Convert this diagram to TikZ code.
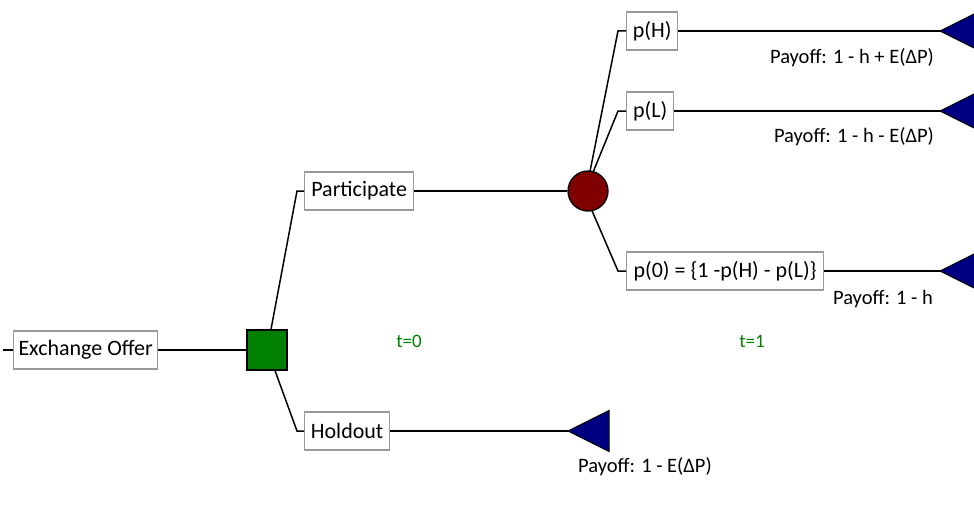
\documentclass[tikz,border=0pt]{standalone}
\usepackage{fontspec}
\setmainfont{Carlito}
\begin{document}
\begin{tikzpicture}[x=1pt,y=-1pt,
  lbl/.style={draw=black!40,line width=1.3pt,fill=white,inner sep=1pt,minimum height=38pt,font=\fontsize{22}{25}\selectfont},
  thick line/.style={line width=2.7pt},
  thin line/.style={line width=1.5pt},
  term/.style={fill=blue!50!black,draw=black,line width=1pt},
  pay/.style={font=\fontsize{20.5}{24}\selectfont,inner sep=0pt},
  tlab/.style={font=\fontsize{19}{22}\selectfont,text=green!50!black,inner sep=0pt}]
\useasboundingbox (0,0) rectangle (974,511);
\clip (0,0) rectangle (974,511);
% nodes
\node[lbl,anchor=west,minimum width=144pt] (ex) at (13,350) {Exchange Offer};
\coordinate (exin) at (3,350);
\node[draw=black,line width=1.3pt,fill=green!50!black,minimum size=40pt,inner sep=0pt] (dec) at (267,350) {};
\node[lbl,anchor=west,minimum width=109pt] (part) at (304,191) {Participate};
\node[lbl,anchor=west,minimum width=85pt] (hold) at (304,431) {Holdout};
\node[circle,draw=black,line width=1.3pt,fill=red!50!black,minimum size=40pt,inner sep=0pt] (ch) at (588,191) {};
\node[lbl,anchor=west,minimum width=51pt] (pH) at (626,31) {p(H)};
\node[lbl,anchor=west,minimum width=47pt] (pL) at (626,111) {p(L)};
\node[lbl,anchor=west,minimum width=197pt] (p0) at (626,271) {p(0) = \{1 -p(H) - p(L)\}};
% terminal apexes
\coordinate (tHold) at (568,431);
\coordinate (tH) at (940,31);
\coordinate (tL) at (940,111);
\coordinate (t0) at (940,271);
\foreach \t in {tHold,tH,tL,t0}
  \draw[term] (\t) -- ++(41,-20.5) -- ++(0,41) -- cycle;
% connectors
\draw[thin line] (exin) -- (ex.west);
\draw[thick line] (ex.east) -- (dec.west);
\draw[thin line] (dec.north) ++(4,0) -- (297,191) -- (part.west);
\draw[thin line] (dec.south) ++(8,0) -- (297,431) -- (hold.west);
\draw[thick line] (part.east) -- (ch.west);
\draw[thick line] (hold.east) -- (tHold);
\draw[thin line] (ch.north) ++(2,1) -- (618,31) -- (pH.west);
\draw[thin line] (ch.north) ++(5,2) -- (618,111) -- (pL.west);
\draw[thin line] (ch.south) ++(4,-1) -- (618,271) -- (p0.west);
\draw[thick line] (pH.east) -- (tH);
\draw[thick line] (pL.east) -- (tL);
\draw[thick line] (p0.east) -- (t0);
% labels
\node[pay] (payH) at (852,58) {Payoff: 1 - h + E(ΔP)};
\node[pay] (payL) at (854,137) {Payoff: 1 - h - E(ΔP)};
\node[pay] (pay0) at (883,299) {Payoff: 1 - h};
\node[pay] (payHold) at (645,467) {Payoff: 1 - E(ΔP)};
\node[tlab] (t0lab) at (409,341) {t=0};
\node[tlab] (t1lab) at (752,341) {t=1};
\end{tikzpicture}
\end{document}
